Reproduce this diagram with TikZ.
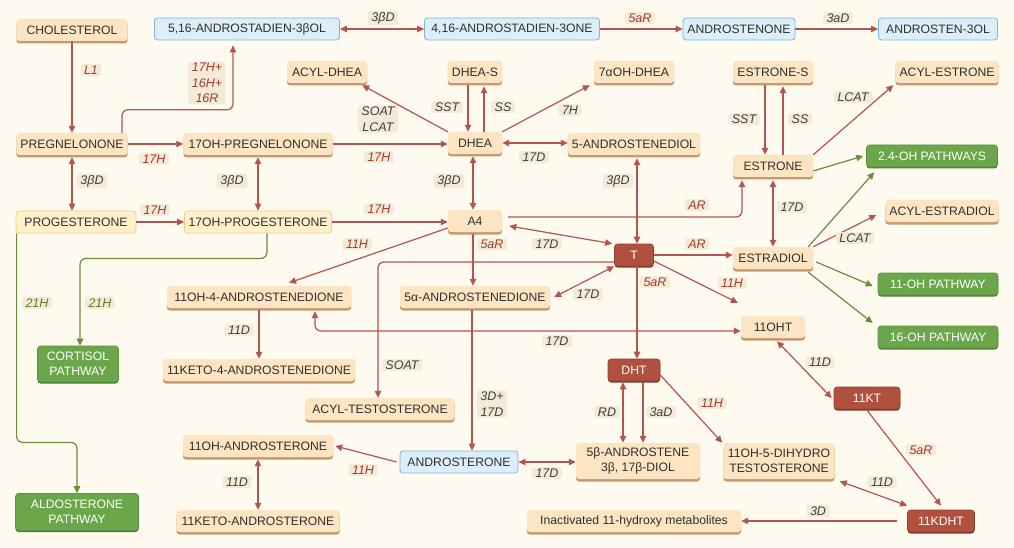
\documentclass[tikz,border=0pt]{standalone}
\usepackage{fontspec}
\setmainfont{Liberation Sans}
\usetikzlibrary{arrows.meta,shadows,calc}
\definecolor{bgc}{HTML}{FEFAF0}
\definecolor{peach}{HTML}{FDE5C3}
\definecolor{peachsh}{HTML}{C7996F}
\definecolor{bluef}{HTML}{DCEEFA}
\definecolor{blueb}{HTML}{7EB4DC}
\definecolor{greenf}{HTML}{6BA64A}
\definecolor{greenb}{HTML}{5B9140}
\definecolor{greensh}{HTML}{4E7E34}
\definecolor{redf}{HTML}{B0513F}
\definecolor{redb}{HTML}{8F3F30}
\definecolor{redsh}{HTML}{7E3628}
\definecolor{yelf}{HTML}{FEF0CB}
\definecolor{yelb}{HTML}{EECF7E}
\definecolor{arrc}{HTML}{B5534E}
\definecolor{garr}{HTML}{6D8B3A}
\definecolor{labbg}{HTML}{F3EAD7}
\definecolor{labdk}{HTML}{3F3F3F}
\definecolor{labrd}{HTML}{A43A2B}
\definecolor{labgr}{HTML}{637A2E}
\definecolor{txt}{HTML}{2F2F2F}
\newcommand{\ndfont}{\fontsize{12.2}{15}\selectfont}
\newcommand{\lbfont}{\fontsize{12.5}{15.5}\selectfont\itshape}
\tikzset{
  base/.style={rounded corners=3pt, minimum height=22pt, inner xsep=4pt, inner ysep=2pt, font=\ndfont, text=txt, align=center},
  pn/.style={base, fill=peach, drop shadow={shadow xshift=0pt,shadow yshift=-2.5pt,fill=peachsh,opacity=1}},
  bn/.style={base, fill=bluef, draw=blueb, line width=0.8pt},
  yn/.style={base, fill=yelf, draw=yelb, line width=0.8pt},
  gn/.style={base, fill=greenf, draw=greenb, line width=0.6pt, text=white, drop shadow={shadow xshift=0pt,shadow yshift=-1.5pt,fill=greensh,opacity=1}},
  rn/.style={base, fill=redf, draw=redb, line width=0.6pt, text=white, drop shadow={shadow xshift=0pt,shadow yshift=-1.5pt,fill=redsh,opacity=1}},
  lab/.style={fill=labbg, rounded corners=2.5pt, inner xsep=3.5pt, inner ysep=1.5pt, font=\lbfont, text=labdk, align=center},
  labr/.style={lab, text=labrd},
  labg/.style={lab, text=labgr},
  arr/.style={draw=arrc, line width=1.2pt, ->},
  darr/.style={draw=arrc, line width=1.2pt, <->},
  garrow/.style={draw=garr, line width=1.2pt, ->}
}
\begin{document}
\begin{tikzpicture}[x=1pt, y=-1pt, >={Triangle[length=7pt,width=6.5pt]}]
\fill[bgc] (0,0) rectangle (1014,548);
\useasboundingbox (0,0) rectangle (1014,548);

% ---- nodes ----
\node[pn, minimum width=111] (chol) at (72,30) {CHOLESTEROL};
\node[bn, minimum width=185] (adien) at (247,29) {5,16-ANDROSTADIEN-3βOL};
\node[bn, minimum width=175] (adion) at (512,29) {4,16-ANDROSTADIEN-3ONE};
\node[bn, minimum width=112] (anone) at (739,29) {ANDROSTENONE};
\node[bn, minimum width=119] (anol) at (938,29) {ANDROSTEN-3OL};

\node[pn, minimum width=80] (acyldhea) at (327,72) {ACYL-DHEA};
\node[pn, minimum width=54] (dheas) at (475,72) {DHEA-S};
\node[pn, minimum width=80] (ohdhea) at (634,72) {7αOH-DHEA};
\node[pn, minimum width=80] (estrones) at (773,72) {ESTRONE-S};
\node[pn, minimum width=102] (acylestrone) at (947,72) {ACYL-ESTRONE};

\node[pn, minimum width=111] (preg) at (72,144) {PREGNELONONE};
\node[pn, minimum width=149] (opreg) at (258,144) {17OH-PREGNELONONE};
\node[pn, minimum width=54] (dhea) at (475,143) {DHEA};
\node[pn, minimum width=130] (andiol) at (634,144) {5-ANDROSTENEDIOL};
\node[pn, minimum width=80] (estrone) at (773,166) {ESTRONE};
\node[gn, minimum width=131] (pw24) at (932,156) {2.4-OH PATHWAYS};

\node[yn, minimum width=120] (prog) at (76,222) {PROGESTERONE};
\node[yn, minimum width=144] (oprog) at (258,222) {17OH-PROGESTERONE};
\node[pn, minimum width=54] (a4) at (475,221) {A4};
\node[pn, minimum width=111] (acylestradiol) at (942,211) {ACYL-ESTRADIOL};
\node[rn, minimum width=39] (t) at (634,255) {T};
\node[pn, minimum width=80] (estradiol) at (773,258) {ESTRADIOL};

\node[pn, minimum width=184] (ohad) at (259,297) {11OH-4-ANDROSTENEDIONE};
\node[pn, minimum width=150] (anedione) at (475,297) {5α-ANDROSTENEDIONE};
\node[gn, minimum width=120] (pw11) at (938,284) {11-OH PATHWAY};
\node[gn, minimum width=120] (pw16) at (938,337) {16-OH PATHWAY};
\node[pn, minimum width=64] (oht) at (773,327) {11OHT};
\node[gn, minimum width=81, minimum height=36] (cort) at (78,364) {CORTISOL\\PATHWAY};
\node[pn, minimum width=192] (ketoad) at (259,370) {11KETO-4-ANDROSTENEDIONE};
\node[rn, minimum width=52] (dht) at (634,370) {DHT};
\node[rn, minimum width=66] (kt) at (867,398) {11KT};
\node[pn, minimum width=149] (acylt) at (380,409) {ACYL-TESTOSTERONE};
\node[pn, minimum width=150] (ohandr) at (258,446) {11OH-ANDROSTERONE};
\node[bn, minimum width=118] (andr) at (459,462) {ANDROSTERONE};
\node[pn, minimum width=124, minimum height=36] (bdiol) at (638,461) {5β-ANDROSTENE\\3β, 17β-DIOL};
\node[pn, minimum width=111, minimum height=36] (dihydro) at (779,461) {11OH-5-DIHYDRO\\TESTOSTERONE};
\node[gn, minimum width=123, minimum height=37] (aldo) at (77,512) {ALDOSTERONE\\PATHWAY};
\node[pn, minimum width=163] (ketoandr) at (258,521) {11KETO-ANDROSTERONE};
\node[pn, minimum width=214] (inact) at (634,521) {Inactivated 11-hydroxy metabolites};
\node[rn, minimum width=67] (kdht) at (941,521) {11KDHT};

% ---- connectors ----
\draw[arr] (chol) -- (preg);
\draw[arr, rounded corners=6pt] ([xshift=50pt]preg.north) -- ++(0,-23) -| ([xshift=-14pt,yshift=-5pt]adien.south);
\draw[darr] (adien.east) -- (adion.west);
\draw[arr] (adion.east) -- (anone.west);
\draw[arr] (anone.east) -- (anol.west);

\draw[arr] (preg.east) -- (opreg.west);
\draw[darr] ([yshift=-2pt]preg.south) -- (preg.south |- prog.north);
\draw[darr] ([yshift=-2pt]opreg.south) -- (opreg.south |- oprog.north);
\draw[arr] (prog.east) -- (oprog.west);
\draw[arr] (opreg.east) -- (opreg.east -| dhea.west);
\draw[arr] (oprog.east) -- (oprog.east -| a4.west);
\draw[darr] ([xshift=-2pt,yshift=-2pt]dhea.south) -- ([xshift=-2pt]a4.north);
\draw[darr] (dhea.east) -- (dhea.east -| andiol.west);
\draw[arr] (dhea.north west) -- ([xshift=-5pt,yshift=-2pt]acyldhea.south east);
\draw[arr] ([xshift=-7pt,yshift=-2pt]dheas.south) -- ([xshift=-7pt]dhea.north);
\draw[arr] ([xshift=9pt]dhea.north) -- ([xshift=9pt,yshift=-3pt]dheas.south);
\draw[arr] (dhea.north east) -- ([xshift=-4pt,yshift=-2pt]ohdhea.south west);
\draw[darr] ([xshift=3pt,yshift=-3pt]andiol.south) -- ([xshift=3pt]andiol.south |- t.north);
\draw[arr, rounded corners=6pt] ([xshift=6pt,yshift=4pt]a4.east) -| ([xshift=-31pt,yshift=-3pt]estrone.south);
\draw[arr] ([xshift=-8pt,yshift=-2pt]estrones.south) -- ([xshift=-8pt]estrone.north);
\draw[arr] ([xshift=10pt]estrone.north) -- ([xshift=10pt,yshift=-3pt]estrones.south);
\draw[arr] (estrone.north east) -- ([xshift=-2pt,yshift=-2pt]acylestrone.south west);
\draw[garrow] ([yshift=-5pt]estrone.east) -- ([xshift=-3pt]pw24.west);
\draw[darr] ([yshift=-3pt]estrone.south) -- (estrone.south |- estradiol.north);
\draw[garrow] ([xshift=-5pt]estradiol.north east) -- ([xshift=8pt,yshift=-5pt]pw24.south west);
\draw[arr] (estradiol.north east) -- ([xshift=-9pt,yshift=-4pt]acylestradiol.west);
\draw[garrow] ([xshift=3pt,yshift=-4pt]estradiol.east) -- ([xshift=-5pt,yshift=-2pt]pw11.west);
\draw[garrow] ([xshift=-5pt,yshift=-3pt]estradiol.south east) -- ([xshift=-5pt,yshift=14pt]pw16.west);
\draw[arr] (t.east) -- (t.east -| estradiol.west);
\draw[darr] ([xshift=7pt,yshift=-5pt]a4.east) -- ([xshift=-2pt]t.north west);
\draw[arr] ([xshift=-2pt,yshift=-2pt]a4.south) -- ([xshift=-2pt]a4.south |- anedione.north);
\draw[arr] ([yshift=-7pt]a4.west) -- ([xshift=30pt,yshift=3pt]ohad.north);
\draw[darr] (t.south west) -- ([xshift=4pt]anedione.east);
\draw[arr] ([xshift=3pt]t.south) -- ([xshift=3pt]t.south |- dht.north);
\draw[arr] ([yshift=-6pt]t.east) -- ([xshift=-3pt,yshift=13pt]oht.north west);
\draw[arr, rounded corners=6pt] ([yshift=-7pt]t.west) -| ([xshift=-2pt]acylt.north);
\draw[darr, rounded corners=6pt] ([yshift=-4pt]oht.west) -| ([xshift=56pt,yshift=-3pt]ohad.south);
\draw[arr] ([yshift=-2pt]ohad.south) -- (ohad.south |- ketoad.north);
\draw[garrow, rounded corners=6pt] ([xshift=9pt]oprog.south) -- ++(0,25) -| ([xshift=2pt]cort.north);
\draw[garrow, rounded corners=6pt] ([xshift=1pt]prog.south west) -- ++(0,209) -| (aldo.north);
\draw[arr] ([xshift=-3pt,yshift=-2pt]anedione.south) -- ([xshift=-3pt]anedione.south |- andr.north);
\draw[darr] ([xshift=-11pt,yshift=-1pt]dht.south) -- ([xshift=-11pt]dht.south |- bdiol.north);
\draw[arr] ([xshift=9pt,yshift=-1pt]dht.south) -- ([xshift=9pt]dht.south |- bdiol.north);
\draw[arr] ([yshift=-5pt]dht.east) -- ([xshift=-1pt]dihydro.north west);
\draw[darr] ([xshift=4pt,yshift=-3pt]oht.south) -- ([xshift=-2pt]kt.west);
\draw[arr] ([yshift=-1pt]kt.south) -- ([yshift=4pt]kdht.north);
\draw[darr] ([xshift=5pt,yshift=-2pt]dihydro.south east) -- ([yshift=4pt]kdht.north west);
\draw[arr] ([xshift=-10pt]kdht.west) -- (inact.east);
\draw[darr] (andr.east) -- (andr.east -| bdiol.west);
\draw[arr] ([xshift=-3pt]andr.west) -- ([xshift=2pt]ohandr.east);
\draw[darr] ([yshift=-2pt]ohandr.south) -- (ohandr.south |- ketoandr.north);

% ---- labels ----
\node[labr] (lb1) at (91,70) {L1};
\node[labr] (lb2) at (207,83) {17H+\\16H+\\16R};
\node[lab] (lb3) at (383,18) {3βD};
\node[labr] (lb4) at (640,18) {5aR};
\node[lab] (lb5) at (838,18) {3aD};
\node[lab] (lb6) at (378,119) {SOAT\\LCAT};
\node[lab] (lb7) at (447,107) {SST};
\node[lab] (lb8) at (503,107) {SS};
\node[lab] (lb9) at (570,110) {7H};
\node[lab] (lb10) at (744,119) {SST};
\node[lab] (lb11) at (800,119) {SS};
\node[lab] (lb12) at (853,97) {LCAT};
\node[labr] (lb13) at (154,159) {17H};
\node[lab] (lb14) at (92,181) {3βD};
\node[lab] (lb15) at (232,181) {3βD};
\node[labr] (lb16) at (155,210) {17H};
\node[labr] (lb17) at (379,157) {17H};
\node[lab] (lb18) at (534,157) {17D};
\node[lab] (lb19) at (449,181) {3βD};
\node[lab] (lb20) at (618,181) {3βD};
\node[labr] (lb21) at (379,209) {17H};
\node[labr] (lb22) at (357,244) {11H};
\node[labr] (lb23) at (492,244) {5aR};
\node[lab] (lb24) at (547,244) {17D};
\node[labr] (lb25) at (697,205) {AR};
\node[lab] (lb26) at (792,207) {17D};
\node[labr] (lb27) at (697,244) {AR};
\node[lab] (lb28) at (855,238) {LCAT};
\node[labg] (lb29) at (37,303) {21H};
\node[labg] (lb30) at (100,303) {21H};
\node[lab] (lb31) at (239,330) {11D};
\node[lab] (lb32) at (588,294) {17D};
\node[labr] (lb33) at (655,282) {5aR};
\node[lab] (lb34) at (557,341) {17D};
\node[lab] (lb35) at (402,365) {SOAT};
\node[lab] (lb36) at (492,404) {3D+\\17D};
\node[labr] (lb37) at (732,283) {11H};
\node[lab] (lb38) at (820,362) {11D};
\node[labr] (lb39) at (712,403) {11H};
\node[lab] (lb40) at (607,412) {RD};
\node[lab] (lb41) at (661,412) {3aD};
\node[labr] (lb42) at (363,470) {11H};
\node[lab] (lb43) at (547,473) {17D};
\node[lab] (lb44) at (237,482) {11D};
\node[labr] (lb45) at (921,450) {5aR};
\node[lab] (lb46) at (882,482) {11D};
\node[lab] (lb47) at (818,511) {3D};
\end{tikzpicture}
\end{document}
